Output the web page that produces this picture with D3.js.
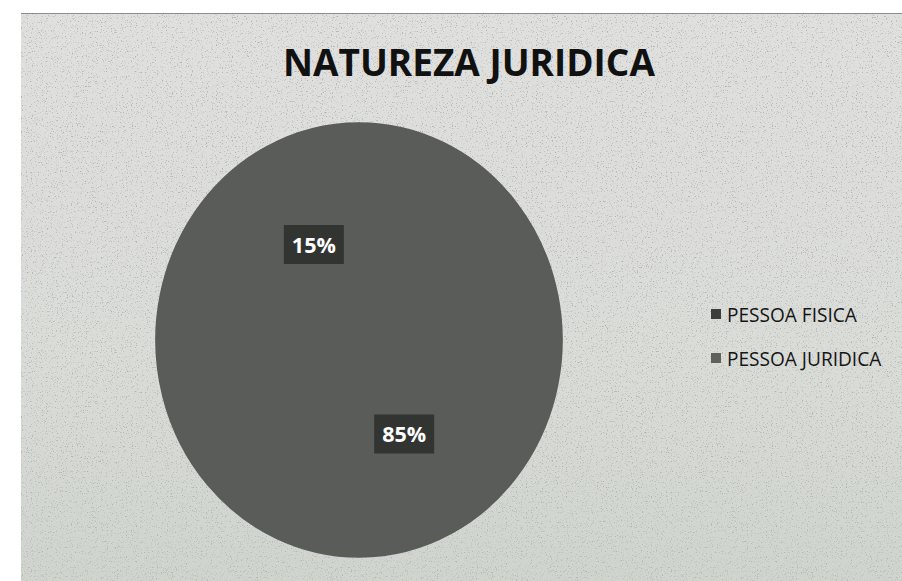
<!DOCTYPE html>
<html>
<head>
<meta charset="utf-8">
<script src="https://cdn.jsdelivr.net/npm/d3@7"></script>
<style>
  html, body { margin: 0; padding: 0; background: #ffffff; }
  svg { display: block; }
</style>
</head>
<body>
<svg id="chart" width="902" height="581"></svg>
<script>
// ---- data ----
const title = "NATUREZA JURIDICA";
const categories = ["PESSOA FISICA", "PESSOA JURIDICA"];
const values = [15, 85];
const labels = ["15%", "85%"];
const sliceColors = ["#5a5c59", "#5a5c59"];
const legendColors = ["#3b3e3b", "#5e615e"];

const W = 902, H = 581;
const svg = d3.select("#chart");

// filters for photocopy-like grain (sparse specks)
const defs = svg.append("defs");
const f = defs.append("filter").attr("id", "grain").attr("x", 0).attr("y", 0).attr("width", "100%").attr("height", "100%");
f.append("feTurbulence").attr("type", "fractalNoise").attr("baseFrequency", "0.8").attr("numOctaves", 2).attr("seed", 3).attr("result", "noise");
f.append("feColorMatrix").attr("in", "noise").attr("type", "matrix")
  .attr("values", "0 0 0 0 0.45  0 0 0 0 0.45  0 0 0 0 0.45  0 0 0 -5 2.05").attr("result", "specks");
f.append("feComposite").attr("in", "specks").attr("in2", "SourceGraphic").attr("operator", "in").attr("result", "sp");
f.append("feMerge").selectAll("feMergeNode").data(["SourceGraphic", "sp"]).join("feMergeNode").attr("in", d => d);

const bg = defs.append("linearGradient").attr("id", "bgGrad").attr("x1", 0).attr("y1", 0).attr("x2", 0).attr("y2", 1);
bg.append("stop").attr("offset", "0%").attr("stop-color", "#e0e0df");
bg.append("stop").attr("offset", "60%").attr("stop-color", "#dadcd8");
bg.append("stop").attr("offset", "100%").attr("stop-color", "#cfd4cd");

// chart area
svg.append("rect").attr("x", 21).attr("y", 13).attr("width", W - 21).attr("height", H - 13)
  .attr("fill", "url(#bgGrad)").attr("filter", "url(#grain)");
svg.append("line").attr("x1", 21).attr("x2", W).attr("y1", 13.5).attr("y2", 13.5)
  .attr("stroke", "#6a6a6a").attr("stroke-width", 1).attr("opacity", 0.7);

// title
const fontFamily = "'Open Sans', 'Noto Sans', sans-serif";
function fitText(sel, targetWidth) {
  const node = sel.node();
  const w = node.getComputedTextLength();
  const fs = parseFloat(sel.attr("font-size"));
  sel.attr("font-size", fs * targetWidth / w);
}
const t = svg.append("text").attr("x", 283).attr("y", 76)
  .attr("font-family", fontFamily).attr("font-weight", 700).attr("font-size", 40)
  .attr("fill", "#111").text(title);
fitText(t, 372);

// pie
const cx = 359, cy = 340, rx = 203, ry = 217;
const total = d3.sum(values);
const pie = d3.pie().sort(null).value(d => d)
  .startAngle(-values[0] / total * 2 * Math.PI)
  .endAngle(2 * Math.PI - values[0] / total * 2 * Math.PI);
const arcs = pie(values);
const arc = d3.arc().innerRadius(0).outerRadius(rx);
const labelArc = d3.arc().innerRadius(rx * 0.49).outerRadius(rx * 0.49);

const pg = svg.append("g").attr("transform", `translate(${cx},${cy}) scale(1,${ry / rx})`);
pg.selectAll("path").data(arcs).join("path")
  .attr("d", arc)
  .attr("fill", (d, i) => sliceColors[i])
  .attr("stroke", (d, i) => sliceColors[i]).attr("stroke-width", 1.6)
  .attr("stroke-linejoin", "round");

// data labels
const lg = svg.append("g");
arcs.forEach((d, i) => {
  const [lx, ly] = labelArc.centroid(d);
  const px = cx + lx, py = cy + ly * ry / rx;
  const g = lg.append("g").attr("transform", `translate(${px},${py})`);
  const rect = g.append("rect").attr("fill", "#2e302e").attr("opacity", 0.9);
  const txt = g.append("text").attr("text-anchor", "middle").attr("dy", "0.36em")
    .attr("font-family", fontFamily).attr("font-weight", 700).attr("font-size", 18)
    .attr("fill", "#ffffff").text(labels[i]);
  fitText(txt, 44);
  const bb = txt.node().getBBox();
  rect.attr("x", bb.x - 8).attr("y", bb.y - 5).attr("width", bb.width + 16).attr("height", bb.height + 10);
});

// legend
const legY = [322, 366];
const leg = svg.append("g");
categories.forEach((c, i) => {
  leg.append("rect").attr("x", 711).attr("y", legY[i] - 13).attr("width", 10).attr("height", 10)
    .attr("fill", legendColors[i]);
  leg.append("text").attr("x", 727).attr("y", legY[i])
    .attr("font-family", fontFamily).attr("font-size", 18).attr("fill", "#151515").text(c);
});
const lt0 = leg.selectAll("text").nodes()[0];
const scale = 130 / lt0.getComputedTextLength();
leg.selectAll("text").attr("font-size", 18 * scale);
</script>
</body>
</html>
